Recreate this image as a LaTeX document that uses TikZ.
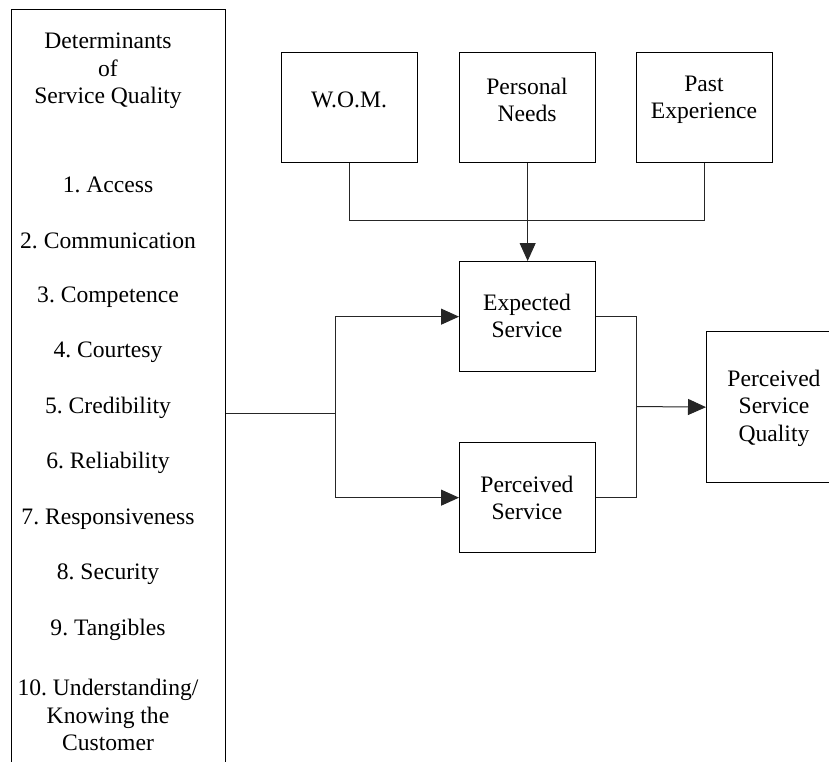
\documentclass[tikz,border=0pt]{standalone}
\usepackage{fontspec}
\setmainfont{Liberation Serif}
\usetikzlibrary{arrows.meta}
\frenchspacing
\begin{document}
\begin{tikzpicture}[x=1pt,y=-1pt,
  box/.style={draw, line width=1.3pt, minimum width=136pt, minimum height=110pt, inner sep=0pt, anchor=north west},
  lbl/.style={align=center, inner sep=0pt, font=\fontsize{23.6}{27.5}\selectfont},
  conn/.style={line width=1pt, draw=black!85},
  arr/.style={conn, -{Triangle[length=18pt,width=16pt]}}]
\clip (0,0) rectangle (829,762);
\fill[white] (0,0) rectangle (829,762);
% left determinants box
\node[draw, line width=1.3pt, minimum width=214pt, minimum height=800pt, inner sep=0pt, anchor=north west] (det) at (11,9) {};
\node[lbl] (t0) at (108,71) {Determinants\\of\\Service Quality};
\node[lbl] (t1) at (108,185) {1. Access};
\node[lbl] (t2) at (108,241) {2. Communication};
\node[lbl] (t3) at (108,297) {3. Competence};
\node[lbl] (t4) at (108,352) {4. Courtesy};
\node[lbl] (t5) at (108,408) {5. Credibility};
\node[lbl] (t6) at (108,463) {6. Reliability};
\node[lbl] (t7) at (108,519) {7. Responsiveness};
\node[lbl] (t8) at (108,574) {8. Security};
\node[lbl] (t9) at (108,630) {9. Tangibles};
\node[lbl] (t10) at (108,715) {10. Understanding/\\Knowing the\\Customer};
% top boxes
\node[box] (wom) at (281,52) {};
\node[lbl] at (349,100) {W.O.M.};
\node[box] (pn) at (459,52) {};
\node[lbl] at (527,100) {Personal\\Needs};
\node[box] (past) at (636,52) {};
\node[lbl] at (704,100) {Past\\Experience};
% middle boxes
\node[box] (exp) at (459,261) {};
\node[lbl] at (527,316) {Expected\\Service};
\node[box] (per) at (459,442) {};
\node[lbl] at (527,498) {Perceived\\Service};
% right box
\node[box, minimum height=151pt] (psq) at (706,331) {};
\node[lbl] at (774,408) {Perceived\\Service\\Quality};
% connectors
\draw[conn] (wom.south) -- ++(0,57) -| (past.south);
\draw[arr] (pn.south) -- (exp.north);
\coordinate (jl) at (335,413);
\draw[conn] (det.east |- jl) -- (jl);
\draw[arr] (jl) |- (exp.west);
\draw[arr] (jl) |- (per.west);
\coordinate (jr) at (636,406.5);
\draw[conn] (exp.east) -| (jr) |- (per.east);
\draw[arr] (jr) -- (psq.west);
\end{tikzpicture}
\end{document}
